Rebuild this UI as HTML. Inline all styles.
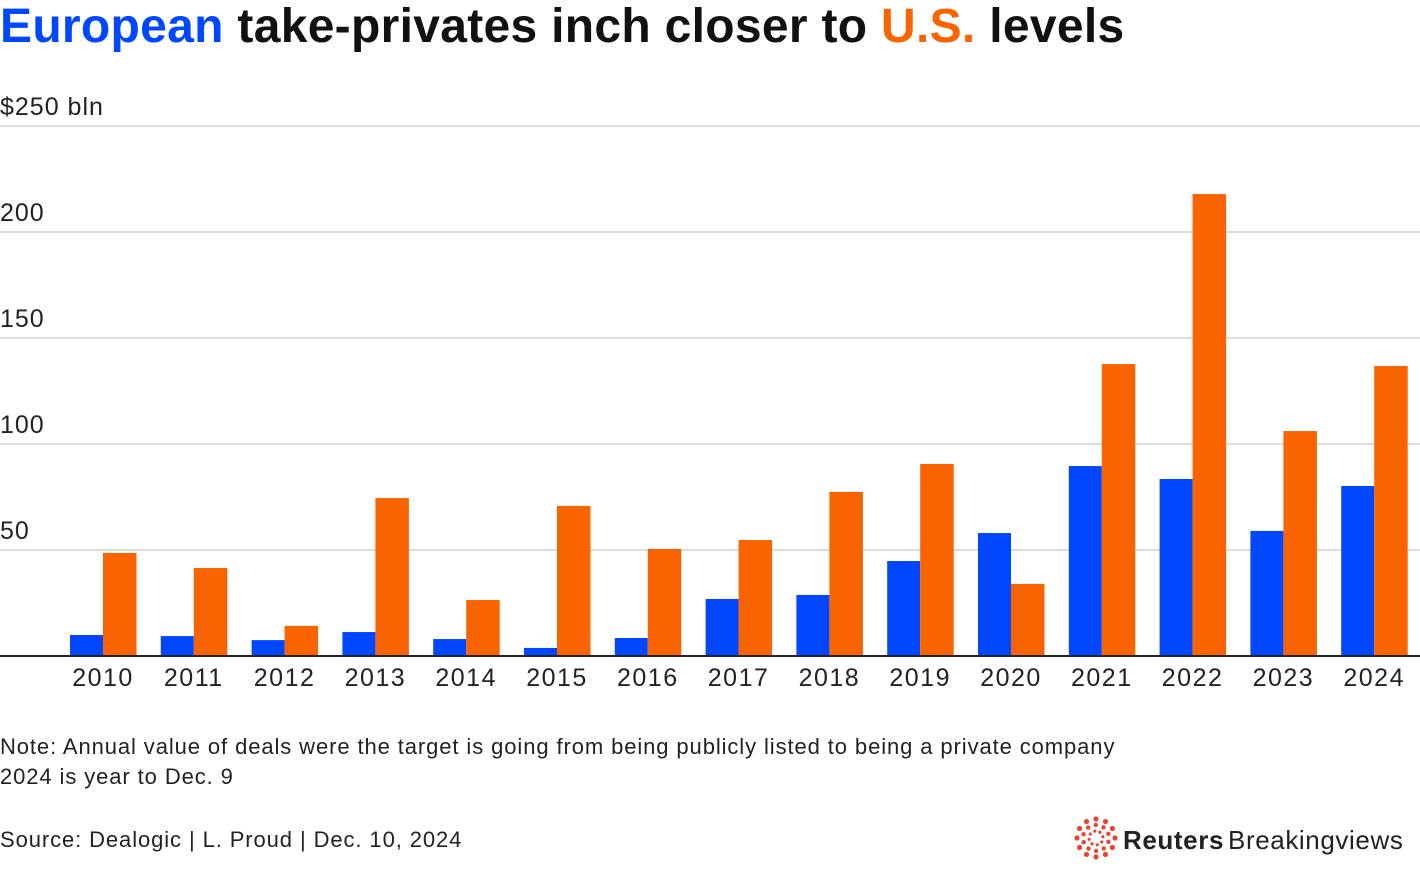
<!DOCTYPE html>
<html><head><meta charset="utf-8">
<style>
body{margin:0;background:#fff;width:1420px;height:888px;overflow:hidden;font-family:"Liberation Sans",Arial,sans-serif;}
svg{position:absolute;left:0;top:0}
</style></head>
<body>
<svg id="chart" width="1420" height="888">
<text x="0" y="42" font-size="48" font-weight="bold" letter-spacing="0.3" fill="#111"><tspan fill="#0047ff">European</tspan> take-privates inch closer to <tspan fill="#fa6400">U.S.</tspan> levels</text>
<g id="grid"></g>
<g id="bars"></g>
<g id="xlabels"></g>
<text x="0" y="754" font-size="22" letter-spacing="0.9" fill="#222">Note: Annual value of deals were the target is going from being publicly listed to being a private company</text>
<text x="0" y="784" font-size="22" letter-spacing="0.9" fill="#222">2024 is year to Dec. 9</text>
<text x="0" y="847" font-size="22" letter-spacing="0.9" fill="#222">Source: Dealogic | L. Proud | Dec. 10, 2024</text>
<g id="logo"></g>
<text x="1123" y="849" font-size="26" font-weight="bold" letter-spacing="0.6" fill="#222">Reuters<tspan font-weight="normal" dx="4">Breakingviews</tspan></text>
</svg>
<script>
const years=["2010","2011","2012","2013","2014","2015","2016","2017","2018","2019","2020","2021","2022","2023","2024"];
const europe=[9.9,9.4,7.5,11.3,8,3.8,8.5,26.9,28.8,44.8,58,89.6,83.5,59,80.2];
const us=[48.6,41.5,14.2,74.5,26.4,70.8,50.5,54.7,77.4,90.6,34,137.7,217.9,106.1,136.8];
const yTicks=[0,50,100,150,200,250];
const yTickLabels=["","50","100","150","200","$250 bln"];
const NS="http://www.w3.org/2000/svg";
const y=v=>656-v*2.12;
const xc=i=>103+i*90.8;
function mk(tag,attrs,parent){const e=document.createElementNS(NS,tag);for(const k in attrs)e.setAttribute(k,attrs[k]);document.getElementById(parent).appendChild(e);return e;}
yTicks.forEach((t,i)=>{
  if(t>0){const l=mk("line",{x1:0,x2:1420,y1:y(t),y2:y(t),stroke:"#c8c8c8","stroke-width":1.3},"grid");
  
  }
  if(yTickLabels[i]){const tx=mk("text",{x:0,y:y(t)-11,"font-size":25,"letter-spacing":1,fill:"#222"},"grid");tx.textContent=yTickLabels[i];
  
  }
});
years.forEach((yr,i)=>{
  const b1=mk("rect",{x:xc(i)-33,y:y(europe[i]),width:33,height:656-y(europe[i]),fill:"#0047ff"},"bars");
  
  
  const b2=mk("rect",{x:xc(i),y:y(us[i]),width:33.5,height:656-y(us[i]),fill:"#fa6400"},"bars");
  
  
  const t=mk("text",{x:xc(i),y:686,"font-size":25,"letter-spacing":1.5,fill:"#222","text-anchor":"middle"},"xlabels");t.textContent=yr;
  
  
});
const base=mk("line",{x1:0,x2:1420,y1:656,y2:656,stroke:"#222","stroke-width":2},"bars");


[[19,2.6,12],[13,2.2,10],[7,1.6,8]].forEach(([r,s,n],k)=>{
  for(let j=0;j<n;j++){const a=j/n*2*Math.PI+k*0.3;
    const d=mk("circle",{cx:1096+r*Math.cos(a),cy:838+r*Math.sin(a),r:s,fill:"#e8452c"},"logo");
    
    }
});
</script>
</body></html>
